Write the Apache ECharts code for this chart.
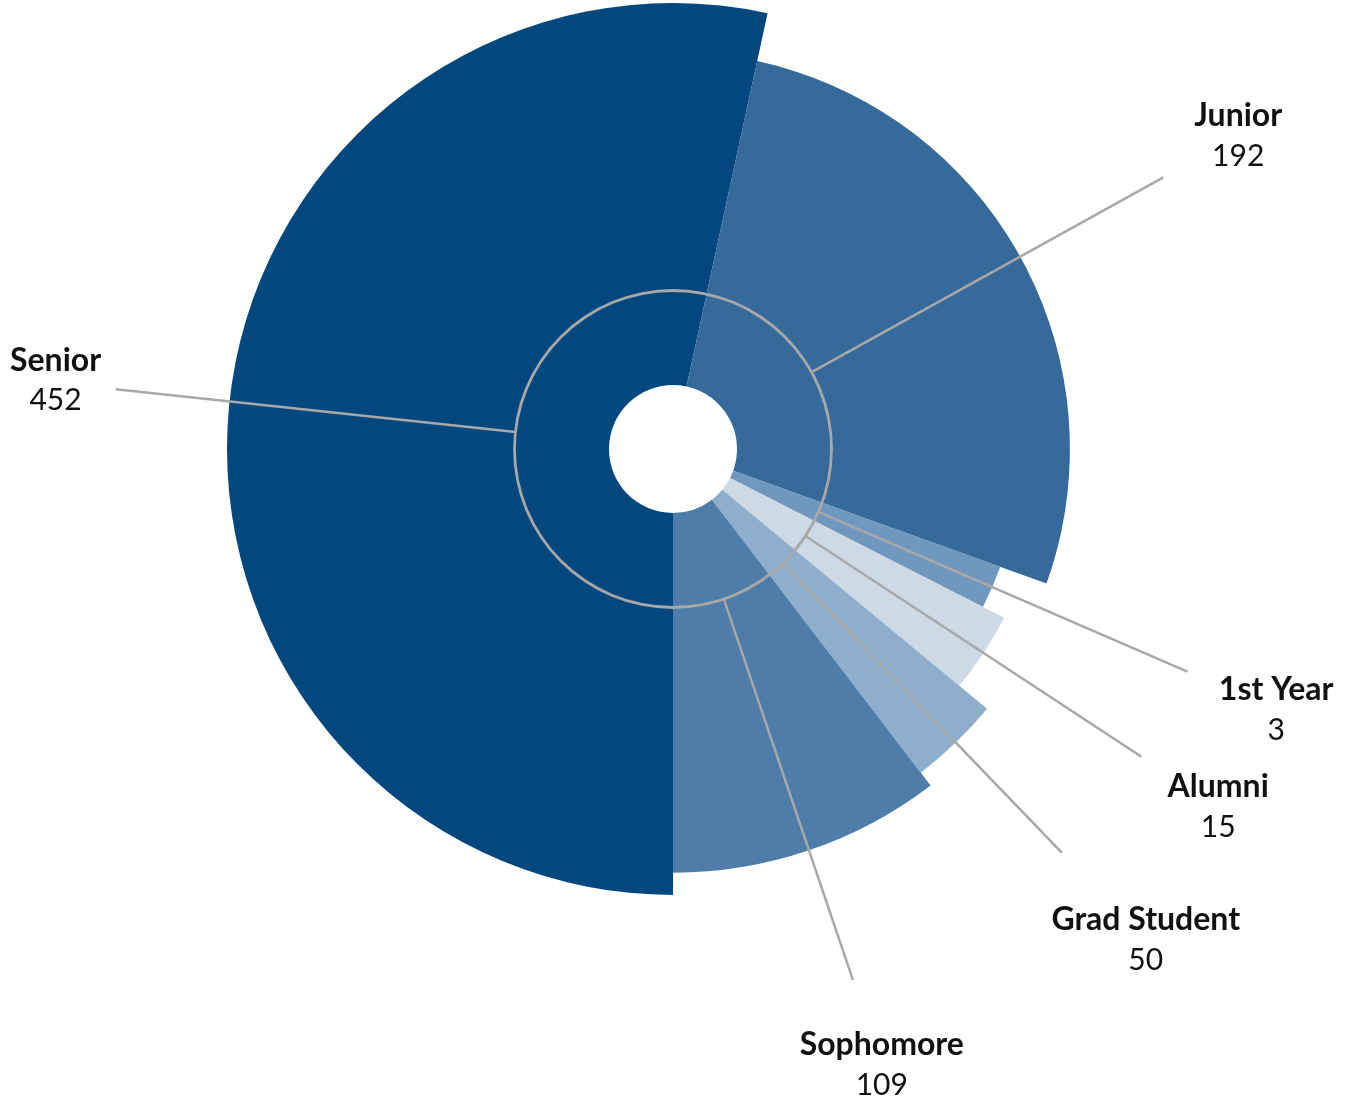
<!DOCTYPE html>
<html>
<head>
<meta charset="utf-8">
<script src="https://cdn.jsdelivr.net/npm/echarts@6/dist/echarts.min.js"></script>
<style>
html, body { margin: 0; padding: 0; background: #fff; }
#main { width: 1369px; height: 1112px; }
</style>
</head>
<body>
<div id="main"></div>
<script>
var classes = ['Senior', 'Junior', '1st Year', 'Alumni', 'Grad Student', 'Sophomore'];
var counts = [452, 192, 3, 15, 50, 109];
// share of the circle each slice takes (percent)
var angleShare = [53.4, 27.1, 2.0, 3.5, 3.6, 10.4];
// how far each slice reaches out, percent of the longest one
var reach = [100, 89, 78, 83.3, 91.4, 95];
var colors = ['#03477f', '#356a9b', '#7098be', '#cddae6', '#8eaecb', '#4d7da8'];

var myChart = echarts.init(document.getElementById('main'));

var center = [673, 449];
var holeR = 64;
var maxR = 446;
var ringR = 158.5;

var series = [];

// one pie per slice, only its own piece is painted, so each gets its own radius
classes.forEach(function (name, i) {
    series.push({
        type: 'pie',
        silent: true,
        z: 2,
        center: center,
        radius: [holeR, maxR * reach[i] / 100],
        startAngle: -90,
        clockwise: true,
        avoidLabelOverlap: false,
        label: { show: false },
        labelLine: { show: false },
        data: classes.map(function (n, j) {
            return {
                name: n,
                value: angleShare[j],
                itemStyle: { color: j === i ? colors[i] : 'rgba(0,0,0,0)' }
            };
        })
    });
});

// thin grey ring
series.push({
    type: 'pie',
    silent: true,
    z: 3,
    center: center,
    radius: [ringR - 1.4, ringR + 1.4],
    label: { show: false },
    labelLine: { show: false },
    data: [{ value: 1, itemStyle: { color: '#a8a8a8' } }]
});

// invisible pie carrying the labels and leader lines
series.push({
    type: 'pie',
    silent: true,
    z: 4,
    center: center,
    radius: [holeR, ringR],
    startAngle: -90,
    clockwise: true,
    avoidLabelOverlap: false,
    itemStyle: { color: 'rgba(0,0,0,0)' },
    label: {
        show: true,
        position: 'outside',
        alignTo: 'none',
        formatter: function (p) {
            return '{n|' + classes[p.dataIndex] + '}\n{v|' + counts[p.dataIndex] + '}';
        },
        rich: {
            n: { fontFamily: 'Lato', fontWeight: 'bold', fontSize: 32, lineHeight: 40, color: '#111', align: 'center' },
            v: { fontFamily: 'Lato', fontWeight: 'normal', fontSize: 30, lineHeight: 40, color: '#111', align: 'center' }
        }
    },
    labelLine: {
        show: true,
        length: 402,
        length2: 0,
        lineStyle: { color: '#a8a8a8', width: 2.5 }
    },
    labelLayout: function (p) {
        var pts = p.labelLinePoints;
        if (!pts) return {};
        var a = pts[0], b = pts[pts.length - 1];
        var dx = b[0] - a[0], dy = b[1] - a[1];
        var len = Math.sqrt(dx * dx + dy * dy) || 1;
        var ux = dx / len, uy = dy / len;
        var hw = p.labelRect.width / 2, hh = p.labelRect.height / 2;
        var d = hw * Math.abs(ux) + hh * Math.abs(uy) + 30;
        var x = b[0] + ux * d;
        var y = b[1] + uy * d;
        // keep the text inside the canvas
        x = Math.max(hw + 10, Math.min(myChart.getWidth() - hw - 4, x));
        return {
            x: x,
            y: y,
            align: 'center',
            verticalAlign: 'middle',
            labelLinePoints: pts
        };
    },
    data: classes.map(function (n, j) {
        return { name: n, value: angleShare[j] };
    })
});

option = {
    animation: false,
    backgroundColor: '#fff',
    series: series
};
myChart.setOption(option);
</script>
</body>
</html>
